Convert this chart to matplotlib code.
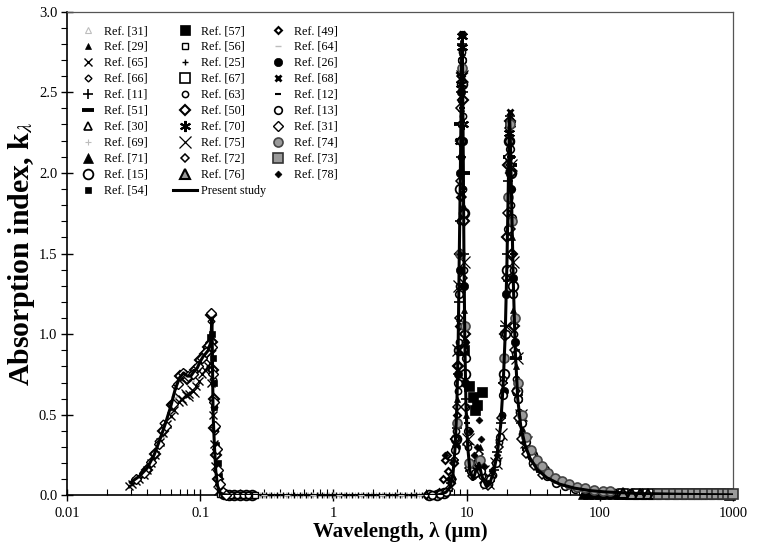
import matplotlib
matplotlib.use("Agg")
import matplotlib.pyplot as plt
from matplotlib.ticker import FixedLocator, NullFormatter, FuncFormatter, MultipleLocator, LogLocator

plt.rcParams['font.family'] = ['Liberation Serif', 'DejaVu Serif']
plt.rcParams['mathtext.fontset'] = 'stix'

# ---------------- data (wavelength in um, absorption index k) ----------------
ps_lam = [0.03, 0.035, 0.04, 0.045, 0.05, 0.055, 0.06, 0.065, 0.07, 0.075, 0.08, 0.085, 0.09, 0.095, 0.1,
          0.105, 0.11, 0.115, 0.12, 0.1225, 0.125, 0.128, 0.131, 0.135, 0.14, 0.15, 0.17, 0.2, 0.5, 1.0,
          2.0, 4.0, 6.0, 7.0, 7.5, 7.9, 8.2, 8.45, 8.65, 8.8, 8.95, 9.05, 9.15, 9.25, 9.35, 9.45, 9.55,
          9.7, 9.9, 10.2, 10.6, 11.2, 11.8, 12.4, 13.0, 14.0, 15.0, 16.0, 17.0, 18.0, 18.8, 19.5, 20.1,
          20.6, 21.0, 21.4, 21.9, 22.5, 23.2, 24.2, 25.5, 27.5, 30.0, 34.0, 40.0, 50.0, 65.0, 85.0, 110.0,
          200.0, 500.0, 1000.0]
ps_k = [0.08, 0.12, 0.17, 0.25, 0.35, 0.45, 0.55, 0.66, 0.73, 0.76, 0.74, 0.74, 0.77, 0.79, 0.83,
        0.86, 0.88, 0.9, 0.95, 1.1, 0.5, 0.3, 0.15, 0.06, 0.02, 0.005, 0.001, 0.0, 0.0, 0.0,
        0.0, 0.0, 0.001, 0.02, 0.05, 0.13, 0.3, 0.55, 0.95, 1.45, 1.9, 2.25, 2.6, 2.82, 2.55, 2.05, 1.5,
        0.95, 0.55, 0.3, 0.15, 0.1, 0.16, 0.2, 0.12, 0.06, 0.08, 0.15, 0.26, 0.43, 0.68, 1.0, 1.45,
        1.95, 2.37, 2.15, 1.72, 1.28, 0.9, 0.6, 0.43, 0.31, 0.23, 0.16, 0.11, 0.07, 0.045, 0.03, 0.022,
        0.012, 0.006, 0.004]

lam_r31a = [0.03, 0.032, 0.034, 0.037, 0.039, 0.042, 0.045, 0.048, 0.052, 0.055, 0.058, 0.061, 0.064,
            0.067, 0.07, 0.074, 0.077, 0.081, 0.085, 0.089, 0.094, 0.098, 0.103, 0.107, 0.112]
k_r31a = [0.08, 0.09, 0.11, 0.14, 0.16, 0.2, 0.25, 0.31, 0.38, 0.44, 0.5, 0.56, 0.63,
          0.69, 0.73, 0.76, 0.75, 0.73, 0.73, 0.76, 0.79, 0.82, 0.85, 0.87, 0.9]

lam_r29 = [7.9, 8.3, 8.5, 8.7, 8.9, 9.05, 9.2, 9.3, 9.45, 9.6, 9.9, 12.2, 12.7, 18.5, 19.3, 19.9, 20.4,
           20.9, 21.3, 21.8, 22.4, 23.5, 26.0]
k_r29 = [0.12, 0.32, 0.6, 1.1, 1.9, 2.4, 2.75, 2.6, 1.8, 1.15, 0.5, 0.25, 0.3, 0.5, 0.85, 1.35, 1.85,
         2.3, 2.2, 1.6, 1.15, 0.8, 0.42]

lam_r65 = [0.029, 0.031, 0.033, 0.035, 0.038, 0.04, 0.043, 0.046, 0.05, 0.053, 0.056, 0.06, 0.064, 0.069,
           0.073, 0.078, 0.083, 0.088, 0.093, 0.098, 0.104, 0.109, 0.114, 0.118, 0.121, 0.124, 0.127,
           0.13, 0.133, 0.137]
k_r65 = [0.06, 0.07, 0.09, 0.1, 0.13, 0.16, 0.2, 0.25, 0.33, 0.39, 0.44, 0.49, 0.53, 0.58,
         0.6, 0.62, 0.63, 0.65, 0.68, 0.71, 0.75, 0.78, 0.8, 0.82, 0.7, 0.5, 0.32,
         0.18, 0.08, 0.03]

lam_r66 = [0.048, 0.053, 0.059, 0.065, 0.071, 0.077, 0.083, 0.089, 0.095, 0.101, 0.107, 0.113, 0.118, 0.121,
           0.123, 0.125, 0.127, 0.129, 0.131, 0.134, 0.138, 0.143, 0.15, 0.16]
k_r66 = [0.34, 0.45, 0.57, 0.68, 0.75, 0.76, 0.73, 0.76, 0.8, 0.84, 0.87, 0.9, 0.95, 1.08,
         0.9, 0.72, 0.55, 0.4, 0.27, 0.15, 0.07, 0.03, 0.01, 0.005]

lam_r11 = [7.2, 7.7, 8.1, 8.4, 8.6, 8.8, 8.95, 9.05, 9.15, 9.25, 9.35, 9.45, 9.55, 9.7, 9.9, 10.2, 10.6,
           11.2, 11.8, 12.4, 13.0, 14.0, 15.0, 16.0, 17.0, 18.0, 18.8, 19.5, 20.1, 20.6, 21.0, 21.4, 21.9,
           22.5, 23.2, 24.2, 25.5, 27.5, 30.0, 34.0, 40.0]
k_r11 = [0.03, 0.08, 0.22, 0.42, 0.75, 1.2, 1.7, 2.1, 2.5, 2.8, 2.5, 2.0, 1.5, 1.0, 0.6, 0.32, 0.15,
         0.12, 0.18, 0.2, 0.12, 0.07, 0.09, 0.16, 0.27, 0.45, 0.7, 1.05, 1.5, 1.95, 2.35, 2.1, 1.7,
         1.25, 0.9, 0.62, 0.45, 0.33, 0.24, 0.17, 0.12]

lam_r51 = [9.0, 9.5, 20.7, 21.6, 23.5, 29.0]
k_r51 = [2.3, 2.0, 2.1, 2.05, 0.85, 0.29]

lam_r30 = [78, 84, 90, 97, 105, 113, 122, 132, 143, 155, 168, 182, 197, 213, 230, 250, 270, 292, 316,
           342, 370, 400, 433, 470, 510, 550, 595]
k_r30 = [0.02, 0.019, 0.018, 0.017, 0.016, 0.016, 0.015, 0.015, 0.014, 0.014, 0.013, 0.013, 0.012, 0.012,
         0.011, 0.011, 0.011, 0.01, 0.01, 0.01, 0.009, 0.009, 0.009, 0.008, 0.008, 0.008, 0.007]

lam_r69 = [0.2, 0.22, 0.24, 0.26, 0.28, 0.3, 0.33, 0.36, 0.4, 0.44, 0.48, 0.53, 0.58, 0.64, 0.7, 0.77,
           0.85, 0.93, 1.0, 1.1, 1.2, 1.3, 1.45, 1.6, 1.75, 1.9, 2.1, 2.3, 2.5, 2.75, 3.0, 3.3, 3.6, 4.0,
           4.4, 4.8, 5.3, 5.8]
k_r69 = [0.002, 0.002, 0.002, 0.001, 0.001, 0.001, 0.001, 0.001, 0.001, 0.001, 0.001, 0.001, 0.001,
         0.001, 0.001, 0.001, 0.001, 0.001, 0.001, 0.001, 0.001, 0.001, 0.001, 0.001, 0.001, 0.001,
         0.001, 0.001, 0.001, 0.001, 0.001, 0.001, 0.001, 0.002, 0.002, 0.003, 0.004, 0.006]

lam_r71 = [75, 82, 90, 100, 112, 125, 140, 160, 190, 250]
k_r71 = [0.012, 0.012, 0.011, 0.011, 0.01, 0.01, 0.009, 0.009, 0.008, 0.007]

lam_r15 = [0.15, 0.165, 0.18, 0.2, 0.22, 0.245, 5.2, 6.0, 6.8, 8.3, 8.7, 9.0, 9.2, 9.5, 9.8,
           19.0, 20.0, 20.8, 21.5, 22.4, 24.0, 27.0, 31.0, 38.0, 48.0]
k_r15 = [0.008, 0.005, 0.004, 0.003, 0.003, 0.002, 0.003, 0.006, 0.015, 0.35, 0.9, 1.9, 2.55, 1.75, 0.75,
         0.75, 1.4, 2.2, 2.0, 1.3, 0.65, 0.35, 0.25, 0.16, 0.09]

lam_r54 = [0.105, 0.11, 0.115, 0.119, 0.122, 0.124, 0.126, 0.128, 0.13, 0.132, 0.135, 0.138, 0.142, 0.147, 0.153]
k_r54 = [0.86, 0.9, 0.93, 0.98, 1.0, 0.85, 0.7, 0.55, 0.42, 0.31, 0.2, 0.12, 0.06, 0.02, 0.01]

lam_r57 = [9.6, 10.5, 11.2, 11.6, 11.9, 13.1]
k_r57 = [0.9, 0.68, 0.61, 0.53, 0.56, 0.64]

lam_r56 = [0.14, 0.145, 0.15, 0.155, 0.16, 0.165, 0.17, 0.175, 0.18, 0.19, 0.2, 0.21, 0.22, 0.23, 0.24,
           0.25, 0.26]
k_r56 = [0.01, 0.008, 0.006, 0.005, 0.004, 0.004, 0.003, 0.003, 0.002, 0.002, 0.002, 0.002, 0.001, 0.001,
         0.001, 0.001, 0.001]

lam_r25 = [0.29, 0.31, 0.34, 0.38, 0.42, 0.46, 0.51, 0.56, 0.62, 0.68, 0.75, 0.82, 0.9, 0.97, 1.05, 1.15,
           1.25, 1.38, 1.52, 1.68, 1.82, 2.0, 2.2, 2.4, 2.6, 2.9, 3.15, 3.45, 3.8, 4.2, 4.6, 5.0, 5.5,
           6.0, 6.5]
k_r25 = [0.0, 0.0, 0.0, 0.0, 0.0, 0.0, 0.0, 0.0, 0.0, 0.0, 0.0, 0.0, 0.0, 0.0, 0.0, 0.0,
         0.0, 0.0, 0.0, 0.0, 0.0, 0.0, 0.0, 0.0, 0.0, 0.0, 0.0, 0.001, 0.001, 0.001, 0.002, 0.002, 0.003,
         0.005, 0.01]

lam_r67 = [150, 190, 230, 280, 330, 390, 450, 540, 650, 800, 950]
k_r67 = [0.012, 0.011, 0.01, 0.01, 0.009, 0.009, 0.008, 0.008, 0.007, 0.007, 0.006]

lam_r63 = [0.15, 0.17, 0.19, 0.21, 0.23, 7.8, 8.1, 8.35, 8.55, 8.7, 8.82, 8.94, 9.04, 9.12, 9.2, 9.28,
           9.36, 9.46, 9.58, 9.72, 9.9, 10.2, 10.6, 11.2, 11.8, 12.4, 13.0, 13.8, 14.8, 15.8, 16.8, 17.6,
           18.3, 18.9, 19.4, 19.9, 20.3, 20.7, 21.0, 21.3, 21.7, 22.2, 22.8, 23.6, 24.6, 26.0, 28.0, 31.0]
k_r63 = [0.006, 0.004, 0.003, 0.002, 0.002, 0.1, 0.22, 0.4, 0.65, 0.95, 1.3, 1.7, 2.1, 2.45, 2.75, 2.7,
         2.35, 1.9, 1.4, 0.95, 0.55, 0.3, 0.16, 0.12, 0.18, 0.2, 0.12, 0.07, 0.07, 0.13, 0.22, 0.33,
         0.5, 0.72, 1.0, 1.35, 1.75, 2.1, 2.33, 2.15, 1.8, 1.4, 1.0, 0.72, 0.52, 0.38, 0.28, 0.2]

lam_r50 = [0.04, 0.046, 0.053, 0.061, 0.07, 0.08, 0.091, 0.1, 0.108, 0.115, 0.1205, 0.1225, 0.124, 0.126,
           0.128, 0.131, 0.135, 8.3, 8.6, 8.85, 9.05, 9.2, 9.35, 9.5, 9.7, 19.5, 20.1, 20.6, 21.0, 21.4,
           21.9, 22.6]
k_r50 = [0.16, 0.26, 0.4, 0.56, 0.74, 0.72, 0.78, 0.84, 0.88, 0.92, 1.12, 0.95, 0.78, 0.6,
         0.42, 0.25, 0.1, 0.35, 0.8, 1.5, 2.2, 2.62, 2.45, 1.7, 1.0, 1.0, 1.6, 2.05, 2.32, 2.0,
         1.5, 1.05]

lam_r70 = [9.0, 9.1, 9.2, 9.3, 9.4, 20.9, 21.2]
k_r70 = [2.2, 2.55, 2.85, 2.78, 2.3, 2.25, 2.3]

lam_r75 = [0.072, 0.08, 0.088, 8.6, 8.8, 9.2, 9.6, 10.3, 12.0, 13.2, 14.5, 16.5, 18.0, 19.6, 21.6, 22.5,
           23.8, 25.5, 28.0]
k_r75 = [0.6, 0.62, 0.65, 0.9, 1.3, 2.6, 1.45, 0.35, 0.15, 0.15, 0.08, 0.2, 0.38, 1.05, 2.05, 1.45,
         0.85, 0.5, 0.33]

lam_r72 = [7.4, 7.7, 8.0, 8.25, 8.45, 8.6, 8.72, 8.83, 8.93, 9.0, 9.08, 9.17, 9.27, 9.4, 9.55, 9.75, 10.0,
           10.4, 11.0, 11.7, 12.3, 12.9, 13.6, 14.5, 15.5, 16.5, 17.4, 18.2, 18.8, 19.3, 19.8, 20.2, 20.6,
           20.9, 21.2, 21.6, 22.1, 22.7, 23.4, 24.4, 25.8, 28.0, 32.0, 37.0]
k_r72 = [0.04, 0.1, 0.2, 0.35, 0.55, 0.8, 1.1, 1.5, 1.95, 2.4, 2.6, 2.3, 1.85, 1.35, 0.9, 0.55, 0.32,
         0.17, 0.12, 0.2, 0.26, 0.18, 0.08, 0.06, 0.12, 0.2, 0.3, 0.48, 0.7, 0.98, 1.35, 1.75, 2.1,
         2.28, 2.05, 1.65, 1.25, 0.9, 0.65, 0.48, 0.35, 0.26, 0.18, 0.13]

lam_r76 = [150, 175, 200, 230, 260, 300, 350, 400, 460, 520, 580, 650, 750, 850]
k_r76 = [0.013, 0.012, 0.012, 0.011, 0.011, 0.01, 0.01, 0.009, 0.009, 0.009, 0.008, 0.008, 0.008, 0.007]

lam_r49 = [5.0, 5.6, 6.2, 6.6, 6.9, 7.1, 7.3, 7.6, 8.0, 8.4, 8.7, 8.95, 9.15]
k_r49 = [0.003, 0.006, 0.02, 0.1, 0.22, 0.25, 0.15, 0.08, 0.2, 0.5, 1.05, 1.85, 2.6]

lam_r64 = [0.3, 0.45, 0.7, 1.1, 1.6, 2.3, 3.2, 4.5, 5.8]
k_r64 = [0.0, 0.0, 0.0, 0.0, 0.0, 0.0, 0.0, 0.001, 0.002]

lam_r26 = [8.3, 8.6, 8.85, 9.0, 9.15, 9.3, 9.45, 9.6, 9.8, 19.0, 19.8, 20.4, 20.8, 21.2, 21.6, 22.2, 23.0, 24.2]
k_r26 = [0.3, 0.75, 1.4, 2.0, 2.5, 2.7, 2.2, 1.3, 0.7, 0.65, 1.25, 1.85, 2.3, 2.2, 1.9, 1.35, 0.95, 0.6]

lam_r68 = [9.25, 9.2, 21.0, 21.1]
k_r68 = [2.86, 2.7, 2.38, 2.2]

lam_r12 = [9.2, 9.5, 10.0, 21.3, 22.2, 26.0, 70.0]
k_r12 = [2.4, 1.9, 0.45, 2.1, 1.5, 0.38, 0.05]

lam_r13 = [5.5, 6.3, 7.0, 8.2, 8.55, 8.8, 9.05, 9.3, 9.55, 9.85, 10.2, 10.8, 11.5, 12.2, 12.8, 13.6, 15.0,
           16.5, 17.8, 18.8, 19.6, 20.3, 20.8, 21.3, 21.8, 22.4, 23.3, 24.5, 26.0, 28.0, 31.0, 35.0, 40.0,
           47.0, 55.0, 65.0]
k_r13 = [0.004, 0.008, 0.02, 0.28, 0.7, 1.25, 2.2, 2.7, 1.75, 0.85, 0.4, 0.15, 0.14, 0.21, 0.15, 0.07, 0.1,
         0.2, 0.36, 0.62, 1.0, 1.65, 2.2, 2.15, 1.72, 1.25, 0.88, 0.6, 0.45, 0.33, 0.24, 0.17, 0.12,
         0.08, 0.06, 0.04]

lam_r31b = [0.033, 0.038, 0.043, 0.049, 0.055, 0.062, 0.068, 0.074, 0.081, 0.088, 0.096, 0.103, 0.11, 0.116,
            0.1215, 0.1235, 0.1255, 0.1275, 0.13, 0.133, 0.137, 0.142, 0.148, 0.155]
k_r31b = [0.1, 0.14, 0.21, 0.32, 0.43, 0.57, 0.69, 0.76, 0.74, 0.75, 0.8, 0.85, 0.89, 0.93,
          1.13, 0.92, 0.75, 0.58, 0.43, 0.29, 0.16, 0.07, 0.02, 0.005]

lam_r74 = [8.4, 8.9, 9.3, 9.7, 10.5, 12.6, 19.2, 20.4, 21.2, 22.0, 23.0, 24.5, 26.0, 28.0, 30.5, 33.5, 37.0,
           41.0, 46.0, 52.0, 59.0, 68.0, 78.0, 90.0, 105.0, 120.0]
k_r74 = [0.45, 1.5, 2.65, 1.05, 0.2, 0.22, 0.85, 1.85, 2.3, 1.7, 1.1, 0.7, 0.5, 0.36, 0.28, 0.22, 0.18,
         0.14, 0.11, 0.09, 0.07, 0.055, 0.045, 0.035, 0.03, 0.025]

lam_r73 = [280, 320, 360, 400, 450, 500, 560, 620, 690, 760, 840, 920, 1000]
k_r73 = [0.011, 0.01, 0.01, 0.009, 0.009, 0.009, 0.008, 0.008, 0.008, 0.007, 0.007, 0.007, 0.007]

lam_r78 = [6.9, 7.4, 8.9, 9.9, 10.6, 11.3, 11.9, 12.4, 12.8, 13.5, 14.5, 15.5, 16.8, 18.5, 21.8]
k_r78 = [0.25, 0.1, 1.5, 0.95, 0.4, 0.25, 0.3, 0.47, 0.35, 0.18, 0.08, 0.15, 0.25, 0.5, 1.9]

x_ticks = [0.01, 0.1, 1, 10, 100, 1000]
x_ticklabels = ['0.01', '0.1', '1', '10', '100', '1000']
y_ticks = [0.0, 0.5, 1.0, 1.5, 2.0, 2.5, 3.0]

# ---------------- styles ----------------
K = 'black'
G = '#9a9a9a'
LG = '#bdbdbd'
def st(marker, ms, mfc, mec, mew):
    return dict(marker=marker, markersize=ms, markerfacecolor=mfc, markeredgecolor=mec,
                markeredgewidth=mew, linestyle='none')

col1 = [
    ('Ref. [31]', lam_r31a, k_r31a, st('^', 4.5, 'none', LG, 0.8)),
    ('Ref. [29]', lam_r29, k_r29, st('^', 4.5, K, K, 0.5)),
    ('Ref. [65]', lam_r65, k_r65, st('x', 5.5, K, K, 1.0)),
    ('Ref. [66]', lam_r66, k_r66, st('D', 3.5, 'white', K, 1.0)),
    ('Ref. [11]', lam_r11, k_r11, st('+', 7, K, K, 1.2)),
    ('Ref. [51]', lam_r51, k_r51, st('_', 8, K, K, 2.8)),
    ('Ref. [30]', lam_r30, k_r30, st('^', 5.5, 'white', K, 1.2)),
    ('Ref. [69]', lam_r69, k_r69, st('+', 5, LG, LG, 0.8)),
    ('Ref. [71]', lam_r71, k_r71, st('^', 7, K, K, 0.5)),
    ('Ref. [15]', lam_r15, k_r15, st('o', 7, 'white', K, 1.3)),
    ('Ref. [54]', lam_r54, k_r54, st('s', 5, K, K, 0.5)),
]
col2 = [
    ('Ref. [57]', lam_r57, k_r57, st('s', 7.5, K, K, 0.5)),
    ('Ref. [56]', lam_r56, k_r56, st('s', 4, 'white', K, 1.0)),
    ('Ref. [25]', lam_r25, k_r25, st('+', 5, K, K, 1.0)),
    ('Ref. [67]', lam_r67, k_r67, st('s', 7.5, 'white', K, 1.2)),
    ('Ref. [63]', lam_r63, k_r63, st('o', 4.5, 'white', K, 1.1)),
    ('Ref. [50]', lam_r50, k_r50, st('D', 5.5, 'white', K, 1.5)),
    ('Ref. [70]', lam_r70, k_r70, st((6, 2, 0), 8, K, K, 1.5)),
    ('Ref. [75]', lam_r75, k_r75, st('x', 8, K, K, 0.9)),
    ('Ref. [72]', lam_r72, k_r72, st('D', 4, 'white', K, 1.1)),
    ('Ref. [76]', lam_r76, k_r76, st('^', 7, G, K, 1.5)),
]
col3 = [
    ('Ref. [49]', lam_r49, k_r49, st('D', 3.5, 'white', K, 1.5)),
    ('Ref. [64]', lam_r64, k_r64, st('_', 5, LG, LG, 1.0)),
    ('Ref. [26]', lam_r26, k_r26, st('o', 6, K, K, 0.5)),
    ('Ref. [68]', lam_r68, k_r68, st('x', 4, K, K, 2.0)),
    ('Ref. [12]', lam_r12, k_r12, st('_', 4, K, K, 1.5)),
    ('Ref. [13]', lam_r13, k_r13, st('o', 5.5, 'white', K, 1.2)),
    ('Ref. [31]', lam_r31b, k_r31b, st('D', 5, 'white', K, 1.0)),
    ('Ref. [74]', lam_r74, k_r74, st('o', 6.5, G, '#444444', 1.2)),
    ('Ref. [73]', lam_r73, k_r73, st('s', 6.5, G, '#333333', 1.2)),
    ('Ref. [78]', lam_r78, k_r78, st('D', 3.5, K, K, 0.5)),
]

# ---------------- figure ----------------
fig = plt.figure(figsize=(7.64, 5.49), dpi=100)
ax = fig.add_axes([0.0877, 0.0975, 0.8717, 0.8815])

h1, h2, h3 = [], [], []
for group, hl in ((col1, h1), (col2, h2), (col3, h3)):
    for lab, lx, ky, s in group:
        ln, = ax.plot(lx, ky, label=lab, zorder=3, clip_on=False, **s)
        hl.append(ln)

ps_line, = ax.plot(ps_lam, ps_k, color='black', lw=2.2, label='Present study', zorder=4)
h2.append(ps_line)

ax.set_xscale('log')
ax.set_xlim(0.01, 1000)
ax.set_ylim(0, 3.0)
ax.xaxis.set_major_locator(FixedLocator(x_ticks))
ax.xaxis.set_major_formatter(FuncFormatter(lambda v, p: x_ticklabels[x_ticks.index(v)] if v in x_ticks else ''))
ax.xaxis.set_minor_locator(LogLocator(base=10, subs=(2, 3, 4, 5, 6, 7, 8, 9), numticks=20))
ax.xaxis.set_minor_formatter(NullFormatter())
ax.yaxis.set_major_locator(FixedLocator(y_ticks))
ax.yaxis.set_major_formatter(FuncFormatter(lambda v, p: '%.1f' % v))
ax.yaxis.set_minor_locator(MultipleLocator(0.1))

ax.tick_params(axis='x', which='major', direction='inout', length=8, width=1, labelsize=10.5, pad=4)
ax.tick_params(axis='x', which='minor', direction='in', length=4, width=0.8)
ax.tick_params(axis='y', which='major', direction='inout', length=8, width=1, labelsize=10.5, pad=3)
ax.tick_params(axis='y', which='minor', direction='out', length=4, width=0.8)

for side in ('left', 'bottom'):
    ax.spines[side].set_linewidth(1.2)
for side in ('top', 'right'):
    ax.spines[side].set_linewidth(0.9)
    ax.spines[side].set_color('#555555')

ax.set_xlabel('Wavelength, λ (μm)', fontsize=15, fontweight='bold', labelpad=2)
ax.set_ylabel(r'Absorption index, k$_{\lambda}$', fontsize=21.5, fontweight='bold', labelpad=1)

leg_kw = dict(loc='upper left', frameon=False, fontsize=8.7, borderpad=0, borderaxespad=0,
              handlelength=2.0, handletextpad=0.3, labelspacing=0.33, numpoints=1)
x_anchor = [76 / 764, 173 / 764, 266 / 764]
y_anchor = 1 - 25 / 549
legs = []
for hs, xa in zip((h1, h2, h3), x_anchor):
    lg = ax.legend(handles=hs, bbox_to_anchor=(xa, y_anchor), bbox_transform=fig.transFigure, **leg_kw)
    legs.append(lg)
for lg in legs[:-1]:
    ax.add_artist(lg)

fig.savefig('out.png', dpi=100)
